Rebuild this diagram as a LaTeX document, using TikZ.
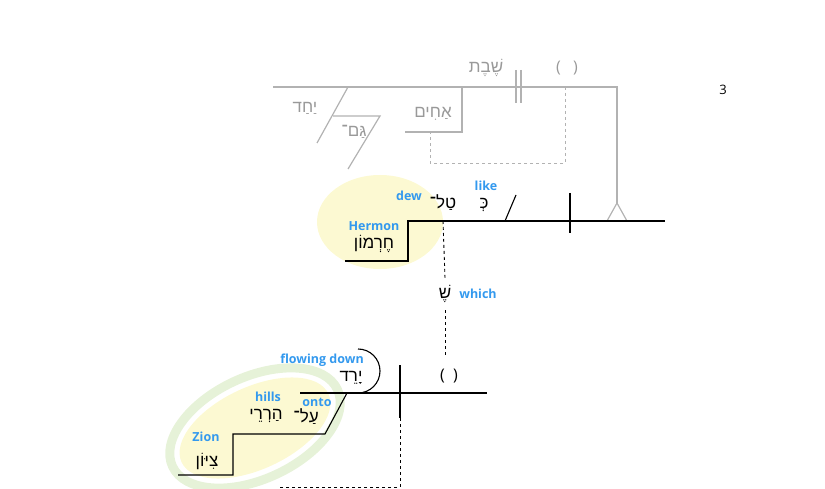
\documentclass[tikz,border=0pt]{standalone}
\usepackage{fontspec}
\setmainfont{Open Sans}
\newfontfamily\heb[Script=Hebrew]{Liberation Sans}
\TeXXeTstate=1
\definecolor{lblue}{HTML}{3399EE}
\definecolor{lgreen}{HTML}{E6F2D8}
\definecolor{lyel}{HTML}{FCF9D2}
\begin{document}
\begin{tikzpicture}[x=1pt,y=-1pt,
  gr/.style={draw=gray!60,line width=1.2pt},
  bk/.style={draw=black,line width=1.1pt},
  hg/.style={text=gray!80,font=\heb\fontsize{17}{17}\selectfont},
  hb/.style={text=black,font=\heb\fontsize{17}{17}\selectfont},
  lbl/.style={text=lblue,font=\bfseries\fontsize{12.5}{12.5}\selectfont},
  dsh/.style={dashed,line width=0.9pt}]
\useasboundingbox (0,0) rectangle (825,489);
% ellipses
\fill[lyel] (380,222) ellipse [x radius=63, y radius=47];
\begin{scope}[shift={(255,428)},rotate=25]
\draw[lgreen, line width=9pt] (0,0) ellipse [x radius=91, y radius=51];
\fill[lyel] (0,0) ellipse [x radius=81, y radius=41];
\end{scope}
% top gray
\draw[gr] (273,87) -- (617,87) -- (617,203) coordinate (apex);
\draw[gr] (apex) -- (607,221) -- (627,221) -- cycle;
\draw[gr] (516,70) -- (516,103) (521,70) -- (521,103);
\node[hg] (shevet) at (486,68) {\beginR שֶׁבֶת\endR};
\node[text=gray!80,font=\fontsize{16}{16}\selectfont] (p1) at (567,68) {(\ \ \ )};
\draw[gr,dsh] (565,87) -- (565,163) -- (430,163) -- (430,132);
\draw[gr] (462,87) -- (462,132) -- (405,132);
\node[hg] (achim) at (433,114) {\beginR אַחִים\endR};
\draw[gr] (348,87) -- (317,143);
\draw[gr] (333,116) -- (380,116) -- (348,169);
\node[hg] (yachad) at (305,108) {\beginR יַחַד\endR};
\node[hg] (gam) at (354,132) {\beginR גַּם־\endR};
% middle
\draw[bk] (345,261) -- (408,261) -- (408,221) -- (665,221);
\draw[bk] (505,221) -- (516,195);
\draw[bk] (570,193) -- (570,233);
\draw[bk,dsh] (443,221) -- (445,278);
\draw[bk,dsh] (445,310) -- (445,355);
\node[hb] (tal) at (443,203) {\beginR טַל־\endR};
\node[hb] (ke) at (484,205) {\beginR כְּ\endR};
\node[lbl] (dew) at (409,196) {dew};
\node[lbl] (like) at (486,186) {like};
\node[lbl] (hermon) at (374,226) {Hermon};
\node[hb] (hermonh) at (374,244) {\beginR חֶרְמוֹן\endR};
\node[hb] (she) at (445,294) {\beginR שֶׁ\endR};
\node[lbl] (which) at (478,294) {which};
% bottom
\draw[bk] (300,393) -- (487,393);
\draw[bk] (400,365) -- (400,418);
\draw[bk,dsh] (400,418) -- (400,487) -- (280,487);
\draw[bk] (358,349) arc[start angle=-90,end angle=90,radius=22];
\node[font=\fontsize{16}{16}\selectfont] (p2) at (449,376) {(\ \ )};
\draw[bk] (347,393) -- (325,434) -- (233,434) -- (233,475) -- (178,475);
\node[lbl] (flow) at (322,360) {flowing down};
\node[hb] (yared) at (351,378) {\beginR יָרֵד\endR};
\node[lbl] (hills) at (268,397) {hills};
\node[hb] (harre) at (266,416) {\beginR הַרְרֵי\endR};
\node[lbl] (onto) at (317,402) {onto};
\node[hb] (al) at (306,417) {\beginR עַל־\endR};
\node[lbl] (zion) at (206,437) {Zion};
\node[hb] (zionh) at (207,461) {\beginR צִיּוֹן\endR};
\node[font=\fontsize{13}{13}\selectfont] (num) at (723,90) {3};
\end{tikzpicture}
\end{document}
